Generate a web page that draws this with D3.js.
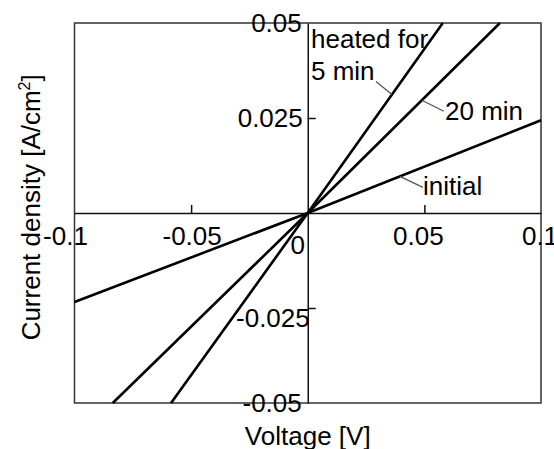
<!DOCTYPE html>
<html>
<head>
<meta charset="utf-8">
<script src="https://d3js.org/d3.v7.min.js"></script>
<style>
  body { margin: 0; background: #fff; }
  svg text { font-family: "Liberation Sans", Arial, sans-serif; fill: #000; }
</style>
</head>
<body>
<svg id="chart" width="554" height="449"></svg>
<script>
// voltage [V] vs current density [A/cm2]
var initialV = [-0.1, 0, 0.1];
var initialJ = [-0.0234, 0, 0.0244];
var min5V = [-0.0586, 0, 0.0579];
var min5J = [-0.05, 0, 0.05];
var min20V = [-0.0836, 0, 0.0824];
var min20J = [-0.05, 0, 0.05];

var xTickValues = [-0.1, -0.05, 0, 0.05, 0.1];
var xTickLabels = ['-0.1', '-0.05', '0', '0.05', '0.1'];
var yTickValues = [0.05, 0.025, -0.025, -0.05];
var yTickLabels = ['0.05', '0.025', '-0.025', '-0.05'];

var svg = d3.select('#chart');
var fs = 26;

var x = d3.scaleLinear().domain([-0.1, 0.1]).range([74.5, 541]);
var y = d3.scaleLinear().domain([-0.05, 0.05]).range([403, 23]);

// frame
svg.append('rect')
  .attr('x', x(-0.1)).attr('y', y(0.05))
  .attr('width', x(0.1) - x(-0.1)).attr('height', y(-0.05) - y(0.05))
  .attr('fill', 'none').attr('stroke', '#333').attr('stroke-width', 1.5);

// center axes, ticks pointing inward (up / right)
var xAxis = d3.axisBottom(x).tickValues([-0.05, 0.05]).tickSizeInner(-8).tickSizeOuter(0).tickFormat('');
var yAxis = d3.axisLeft(y).tickValues([0.025, -0.025]).tickSizeInner(-8).tickSizeOuter(0).tickFormat('');

var gx = svg.append('g').attr('transform', 'translate(0,' + y(0) + ')').call(xAxis);
var gy = svg.append('g').attr('transform', 'translate(' + x(0) + ',0)').call(yAxis);
[gx, gy].forEach(function (g) {
  g.selectAll('path, line').attr('stroke', '#111').attr('stroke-width', 1.5);
});

// tick labels (the original nudges a few of them)
var xNudge = { '-0.1': [-9, 245], '-0.05': [1, 245], '0': [-10, 254], '0.05': [-6, 245], '0.1': [-1, 245] };
xTickValues.forEach(function (v, i) {
  var n = xNudge[xTickLabels[i]];
  svg.append('text')
    .attr('x', x(v) + n[0]).attr('y', n[1])
    .attr('text-anchor', 'middle').attr('font-size', fs)
    .text(xTickLabels[i]);
});

var yNudge = { '0.05': [-6, 0], '0.025': [-5, 0], '-0.025': [2, 10], '-0.05': [-6, 0] };
yTickValues.forEach(function (v, i) {
  var n = yNudge[yTickLabels[i]];
  svg.append('text')
    .attr('x', x(0) + n[0]).attr('y', y(v) + n[1])
    .attr('dy', '0.35em')
    .attr('text-anchor', 'end').attr('font-size', fs)
    .text(yTickLabels[i]);
});

// data lines
var line = d3.line().x(function (d) { return x(d[0]); }).y(function (d) { return y(d[1]); });
[[initialV, initialJ], [min5V, min5J], [min20V, min20J]].forEach(function (s) {
  svg.append('path')
    .datum(d3.zip(s[0], s[1]))
    .attr('d', line)
    .attr('fill', 'none')
    .attr('stroke', '#000')
    .attr('stroke-width', 2.6);
});

// annotations: leader from point on the line to the label
var notes = [
  { text: '5 min', vx: 0.0361, slope: 0.05 / 0.0579, dx: -16, dy: -13, tx: 311, ty: 80 },
  { text: '20 min', vx: 0.0489, slope: 0.05 / 0.0824, dx: 22, dy: 11, tx: 445, ty: 120 },
  { text: 'initial', vx: 0.0395, slope: 0.0244 / 0.1, dx: 23, dy: 11, tx: 423, ty: 195 }
];
notes.forEach(function (n) {
  var px = x(n.vx), py = y(n.vx * n.slope);
  svg.append('line')
    .attr('x1', px).attr('y1', py).attr('x2', px + n.dx).attr('y2', py + n.dy)
    .attr('stroke', '#555').attr('stroke-width', 1.3);
  svg.append('text')
    .attr('x', n.tx).attr('y', n.ty)
    .attr('font-size', fs)
    .text(n.text);
});
svg.append('text')
  .attr('x', 311).attr('y', 48)
  .attr('font-size', fs)
  .text('heated for');

// axis titles
svg.append('text')
  .attr('x', x(0)).attr('y', 445)
  .attr('text-anchor', 'middle').attr('font-size', fs)
  .text('Voltage [V]');

var yt = svg.append('text')
  .attr('transform', 'translate(40,' + y(0.0015) + ') rotate(-90)')
  .attr('text-anchor', 'middle').attr('font-size', fs);
yt.append('tspan').text('Current density [A/cm');
yt.append('tspan').attr('font-size', 16).attr('dy', -10).text('2');
yt.append('tspan').attr('dy', 10).text(']');
</script>
</body>
</html>
